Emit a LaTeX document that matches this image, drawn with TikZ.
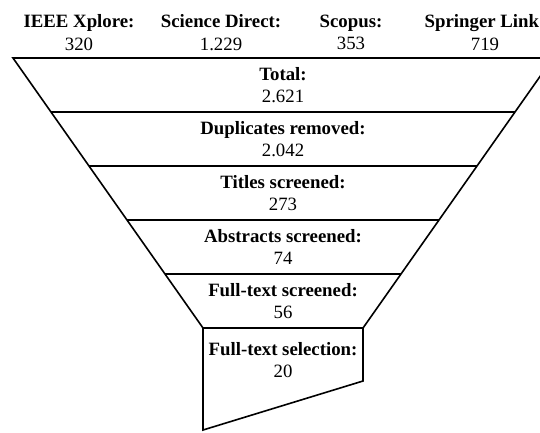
\documentclass[tikz,border=0pt]{standalone}
\usepackage{fontspec}
\setmainfont{Liberation Serif}
\begin{document}
\begin{tikzpicture}[x=1pt,y=-1pt,
  funnel/.style={line width=1.6pt, line join=miter},
  lbl/.style={align=center, inner sep=0pt, font=\fontsize{18.8}{22.5}\selectfont}]
\useasboundingbox (0,0) rectangle (540,432);
\clip (0,0) rectangle (540,432);
% funnel corner points
\coordinate (a0) at (13,58);   \coordinate (b0) at (553,58);
\coordinate (a1) at (51,112);  \coordinate (b1) at (515,112);
\coordinate (a2) at (89,166);  \coordinate (b2) at (477,166);
\coordinate (a3) at (127,220); \coordinate (b3) at (439,220);
\coordinate (a4) at (165,274); \coordinate (b4) at (401,274);
\coordinate (a5) at (203,328); \coordinate (b5) at (363,328);
\coordinate (sr) at (363,381); \coordinate (sl) at (203,430);
\draw[funnel] (a0) -- (b0) -- (b5) -- (sr) -- (sl) -- (a5) -- cycle;
\draw[funnel] (a1) -- (b1);
\draw[funnel] (a2) -- (b2);
\draw[funnel] (a3) -- (b3);
\draw[funnel] (a4) -- (b4);
\draw[funnel] (a5) -- (b5);
% header labels
\node[lbl] (ieee) at (79,32.5) {\textbf{IEEE Xplore:}\\320};
\node[lbl] (sd) at (221,32.5) {\textbf{Science Direct:}\\1.229};
\node[lbl] (scopus) at (351,32.5) {\textbf{Scopus:}\\353};
\node[lbl] (springer) at (485,32.5) {\textbf{Springer Link}\phantom{\textbf{:}}\\719};
% band labels
\node[lbl] (total) at (283,85) {\textbf{Total:}\\2.621};
\node[lbl] (dup) at (283,139) {\textbf{Duplicates removed:}\\2.042};
\node[lbl] (titles) at (283,193) {\textbf{Titles screened:}\\273};
\node[lbl] (abstracts) at (283,247) {\textbf{Abstracts screened:}\\74};
\node[lbl] (fulltext) at (283,301) {\textbf{Full-text screened:}\\56};
\node[lbl] (selection) at (283,360) {\textbf{Full-text selection:}\\20};
\end{tikzpicture}
\end{document}
